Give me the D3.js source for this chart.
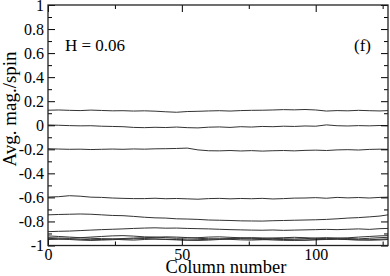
<!DOCTYPE html>
<html>
<head>
<meta charset="utf-8">
<script src="https://cdn.jsdelivr.net/npm/d3@7"></script>
<style>
  body { margin: 0; background: #fff; }
  svg { display: block; }
  text { font-family: "Liberation Serif", "Times New Roman", serif; fill: #000; }
</style>
</head>
<body>
<svg></svg>
<script>
const cols = [0, 4, 8, 12, 16, 20, 24, 28, 32, 36, 40, 44, 48, 52, 56, 60, 64, 68, 72, 76, 80, 84, 88, 92, 96, 100, 104, 108, 112, 116, 120, 124, 127];

//average magnetisation per spin, one array per curve (top to bottom)
const s1 = [0.125, 0.127, 0.124, 0.122, 0.126, 0.123, 0.12, 0.121, 0.118, 0.12, 0.117, 0.112, 0.108, 0.114, 0.116, 0.119, 0.121, 0.118, 0.122, 0.124, 0.125, 0.127, 0.13, 0.128, 0.131, 0.127, 0.118, 0.122, 0.12, 0.124, 0.121, 0.119, 0.122];
const s2 = [0.002, 0.0, -0.003, -0.005, -0.004, -0.008, -0.01, -0.012, -0.018, -0.02, -0.017, -0.019, -0.015, -0.02, -0.022, -0.016, -0.014, -0.018, -0.012, -0.015, -0.01, -0.012, -0.008, -0.01, -0.006, -0.008, 0.003, -0.004, -0.006, -0.003, -0.005, -0.002, -0.004];
const s3 = [-0.195, -0.198, -0.2, -0.199, -0.202, -0.2, -0.198, -0.2, -0.197, -0.199, -0.196, -0.195, -0.193, -0.19, -0.205, -0.212, -0.213, -0.21, -0.214, -0.211, -0.215, -0.212, -0.21, -0.213, -0.209, -0.207, -0.21, -0.205, -0.203, -0.206, -0.201, -0.199, -0.2];
const s4 = [-0.597, -0.594, -0.586, -0.59, -0.598, -0.6, -0.605, -0.608, -0.61, -0.61, -0.607, -0.611, -0.609, -0.612, -0.615, -0.61, -0.608, -0.612, -0.609, -0.611, -0.608, -0.613, -0.61, -0.606, -0.605, -0.602, -0.607, -0.6, -0.604, -0.601, -0.605, -0.6, -0.598];
const s5 = [-0.745, -0.742, -0.74, -0.738, -0.74, -0.745, -0.75, -0.752, -0.758, -0.765, -0.77, -0.772, -0.778, -0.78, -0.783, -0.788, -0.79, -0.792, -0.795, -0.796, -0.797, -0.794, -0.792, -0.79, -0.788, -0.786, -0.783, -0.778, -0.772, -0.768, -0.762, -0.755, -0.745];
const s6 = [-0.885, -0.882, -0.88, -0.876, -0.872, -0.868, -0.865, -0.862, -0.858, -0.855, -0.853, -0.856, -0.855, -0.858, -0.86, -0.862, -0.865, -0.868, -0.87, -0.872, -0.873, -0.871, -0.874, -0.872, -0.87, -0.868, -0.866, -0.868, -0.865, -0.862, -0.866, -0.86, -0.858];
const s7 = [-0.92, -0.925, -0.93, -0.935, -0.93, -0.925, -0.92, -0.918, -0.922, -0.928, -0.93, -0.935, -0.94, -0.938, -0.935, -0.93, -0.928, -0.932, -0.936, -0.94, -0.942, -0.938, -0.935, -0.932, -0.935, -0.94, -0.943, -0.94, -0.936, -0.93, -0.925, -0.92, -0.918];
const s8 = [-0.935, -0.938, -0.94, -0.936, -0.94, -0.943, -0.945, -0.942, -0.938, -0.935, -0.932, -0.928, -0.93, -0.934, -0.94, -0.944, -0.946, -0.942, -0.938, -0.935, -0.937, -0.94, -0.944, -0.946, -0.943, -0.938, -0.935, -0.938, -0.942, -0.945, -0.94, -0.935, -0.932];
const s9 = [-0.95, -0.948, -0.945, -0.948, -0.952, -0.95, -0.947, -0.952, -0.955, -0.95, -0.946, -0.948, -0.951, -0.954, -0.952, -0.948, -0.945, -0.949, -0.953, -0.955, -0.952, -0.948, -0.95, -0.953, -0.955, -0.952, -0.95, -0.948, -0.951, -0.954, -0.952, -0.948, -0.945];
const s10 = [-0.94, -0.945, -0.95, -0.955, -0.958, -0.955, -0.952, -0.948, -0.944, -0.942, -0.946, -0.95, -0.953, -0.956, -0.958, -0.955, -0.95, -0.945, -0.943, -0.946, -0.95, -0.954, -0.957, -0.958, -0.956, -0.952, -0.948, -0.946, -0.95, -0.953, -0.956, -0.954, -0.95];

//tick labels
const xTicks = [0, 50, 100];
const xMinor = [25, 75, 125];
const yTicks = [1, 0.8, 0.6, 0.4, 0.2, 0, -0.2, -0.4, -0.6, -0.8, -1];
const yMinor = [0.9, 0.7, 0.5, 0.3, 0.1, -0.1, -0.3, -0.5, -0.7, -0.9];

const w = 390;
const h = 276;
const margin = { top: 5, right: 2, bottom: 30.5, left: 48 };

const svg = d3.select('svg')
    .attr('width', w)
    .attr('height', h);

const xScale = d3.scaleLinear()
    .domain([0, 127])
    .range([margin.left, w - margin.right]);

const yScale = d3.scaleLinear()
    .domain([-1, 1])
    .range([h - margin.bottom, margin.top]);

const fmtY = (d) => d === 0 ? '0' : (Number.isInteger(d) ? String(d) : d.toFixed(1));

//the curves
const series = [s1, s2, s3, s4, s5, s6, s7, s8, s9, s10];
const line = d3.line()
    .x((d, i) => xScale(cols[i]))
    .y((d) => yScale(d));

svg.append('g')
    .selectAll('path')
    .data(series)
    .enter()
    .append('path')
    .attr('d', line)
    .attr('fill', 'none')
    .attr('stroke', '#333')
    .attr('stroke-width', 1);

//axes, ticks point inward on all four sides
const addAxis = (axis, transform, labels) => {
    const g = svg.append('g')
        .attr('transform', transform)
        .call(axis);
    g.select('.domain').remove();
    g.selectAll('line').attr('stroke', '#000');
    g.selectAll('text')
        .style('font-size', '16px');
    if (!labels) g.selectAll('text').remove();
    return g;
};

const x0 = xScale(0), x1 = xScale(127);
const y0 = yScale(-1), y1 = yScale(1);

addAxis(d3.axisBottom(xScale).tickValues(xTicks).tickSize(-7).tickPadding(3), `translate(0,${y0})`, true);
addAxis(d3.axisBottom(xScale).tickValues(xMinor).tickSize(-4), `translate(0,${y0})`, false);
addAxis(d3.axisTop(xScale).tickValues(xTicks).tickSize(-7), `translate(0,${y1})`, false);
addAxis(d3.axisTop(xScale).tickValues(xMinor).tickSize(-4), `translate(0,${y1})`, false);

addAxis(d3.axisLeft(yScale).tickValues(yTicks).tickFormat(fmtY).tickSize(-7).tickPadding(4), `translate(${x0},0)`, true);
addAxis(d3.axisLeft(yScale).tickValues(yMinor).tickSize(-4), `translate(${x0},0)`, false);
addAxis(d3.axisRight(yScale).tickValues(yTicks).tickSize(-7), `translate(${x1},0)`, false);
addAxis(d3.axisRight(yScale).tickValues(yMinor).tickSize(-4), `translate(${x1},0)`, false);

//frame
svg.append('rect')
    .attr('x', x0)
    .attr('y', y1)
    .attr('width', x1 - x0)
    .attr('height', y0 - y1)
    .attr('fill', 'none')
    .attr('stroke', '#222')
    .attr('stroke-width', 1.3);

//labels
svg.append('text')
    .attr('x', (x0 + x1) / 2 + 8)
    .attr('y', 273)
    .attr('text-anchor', 'middle')
    .style('font-size', '18.5px')
    .text('Column number');

svg.append('text')
    .attr('transform', 'translate(16,109) rotate(-90)')
    .attr('text-anchor', 'middle')
    .style('font-size', '19px')
    .text('Avg. mag./spin');

svg.append('text')
    .attr('x', 65)
    .attr('y', 51)
    .style('font-size', '17px')
    .text('H = 0.06');

svg.append('text')
    .attr('x', 354)
    .attr('y', 51)
    .style('font-size', '17px')
    .text('(f)');
</script>
</body>
</html>
